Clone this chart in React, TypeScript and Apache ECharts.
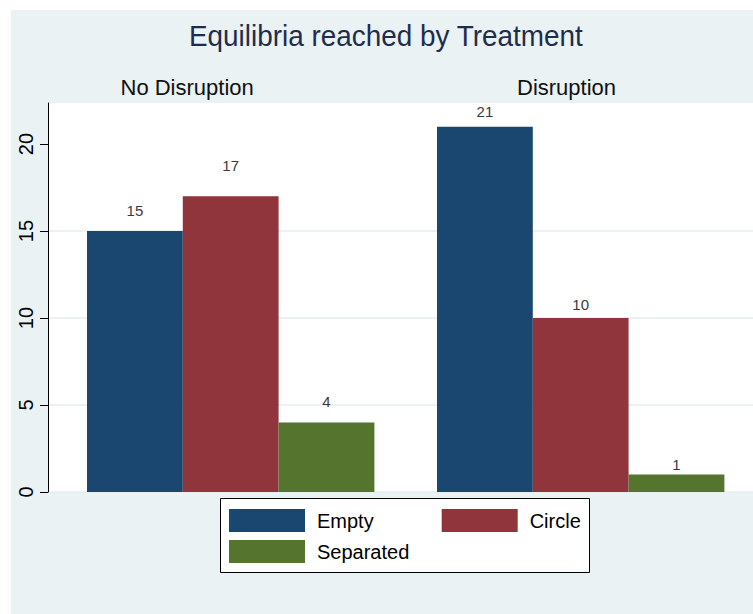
import React, { useEffect, useRef } from "react";
import * as echarts from "echarts";

const chartTitle = "Equilibria reached by Treatment";
const categories = ["No Disruption", "Disruption"];
const seriesNames = ["Empty", "Circle", "Separated"];
const emptyValues = [15, 21];
const circleValues = [17, 10];
const separatedValues = [4, 1];
const yTicks = [0, 5, 10, 15, 20];
const yMax = 22.36;

// label distances above bar tops (styling only), per series per category
const emptyLabelLift = [13, 7.2];
const circleLabelLift = [23.5, 6.2];
const separatedLabelLift = [13, 3];

const colors = ["#1a476f", "#90353b", "#55752f"];
const FONT = "'Liberation Sans', Arial, Helvetica, sans-serif";

export default function App() {
  const ref = useRef<HTMLDivElement>(null);

  useEffect(() => {
    if (!ref.current) return;
    const chart = echarts.init(ref.current, undefined, { renderer: "svg" });

    const valueSets = [emptyValues, circleValues, separatedValues];
    const lifts = [emptyLabelLift, circleLabelLift, separatedLabelLift];

    const series: any[] = [];
    categories.forEach((_, ci) => {
      seriesNames.forEach((name, si) => {
        series.push({
          type: "bar",
          name,
          xAxisIndex: ci + 1,
          yAxisIndex: ci + 1,
          barWidth: 95.8,
          barGap: "0%",
          itemStyle: { color: colors[si] },
          label: {
            show: true,
            position: "top",
            fontSize: 15,
            color: "#3a3a3a",
            fontFamily: FONT,
          },
          data: [
            {
              value: valueSets[si][ci],
              label: { distance: lifts[si][ci] },
            },
          ],
        });
      });
    });

    const legendCommon = {
      left: 229,
      itemWidth: 76,
      itemHeight: 23,
      itemGap: 68,
      icon: "rect",
      selectedMode: false,
      orient: "horizontal",
      padding: 0,
      textStyle: {
        fontSize: 20,
        color: "#000",
        fontFamily: FONT,
        padding: [0, 0, 0, 7],
      },
    };

    const option: any = {
      animation: false,
      backgroundColor: "#ffffff",
      textStyle: { fontFamily: FONT },
      grid: [
        {
          left: 48,
          right: 0,
          top: 103,
          bottom: 122,
          show: true,
          backgroundColor: "#ffffff",
          borderWidth: 0,
        },
        { left: 48, top: 103, width: 365.4, bottom: 122 },
        { left: 413.4, top: 103, width: 334.6, bottom: 122 },
      ],
      xAxis: [
        { gridIndex: 0, type: "category", data: [""], show: false },
        { gridIndex: 1, type: "category", data: [categories[0]], show: false },
        { gridIndex: 2, type: "category", data: [categories[1]], show: false },
      ],
      yAxis: [
        {
          gridIndex: 0,
          type: "value",
          min: 0,
          max: yMax,
          interval: 5,
          axisLine: { show: true, lineStyle: { color: "#000", width: 1 } },
          axisTick: {
            show: true,
            length: 8,
            lineStyle: { color: "#000", width: 1 },
            customValues: yTicks,
          },
          axisLabel: {
            rotate: 90,
            margin: 12,
            fontSize: 20,
            color: "#000",
            fontFamily: FONT,
            customValues: yTicks,
          },
          splitLine: {
            show: true,
            showMaxLine: false,
            lineStyle: { color: "#e6edef", width: 1.5 },
          },
        },
        { gridIndex: 1, type: "value", min: 0, max: yMax, show: false, splitLine: { show: false } },
        { gridIndex: 2, type: "value", min: 0, max: yMax, show: false, splitLine: { show: false } },
      ],
      legend: [
        { ...legendCommon, top: 509, data: [seriesNames[0], seriesNames[1]] },
        { ...legendCommon, top: 540, data: [seriesNames[2]] },
      ],
      graphic: [
        {
          type: "rect",
          z: -10,
          silent: true,
          shape: { x: 11, y: 10, width: 742, height: 604 },
          style: { fill: "#eaf2f3" },
        },
        {
          type: "rect",
          z: -1,
          silent: true,
          shape: { x: 220.5, y: 498.5, width: 369, height: 74 },
          style: { fill: "#ffffff", stroke: "#000000", lineWidth: 1 },
        },
        {
          type: "text",
          x: 189,
          y: 36,
          scaleX: 0.93,
          style: {
            text: chartTitle,
            fontSize: 30,
            fill: "#1f2d4d",
            fontFamily: FONT,
            verticalAlign: "middle",
          },
        },
        {
          type: "text",
          x: 120.5,
          y: 87,
          style: {
            text: categories[0],
            fontSize: 22,
            fill: "#111",
            fontFamily: FONT,
            verticalAlign: "middle",
          },
        },
        {
          type: "text",
          x: 517,
          y: 87,
          style: {
            text: categories[1],
            fontSize: 22,
            fill: "#111",
            fontFamily: FONT,
            verticalAlign: "middle",
          },
        },
      ],
      series,
    };

    chart.setOption(option);
    return () => chart.dispose();
  }, []);

  return (
    <div
      ref={ref}
      style={{ position: "fixed", left: 0, top: 0, width: 753, height: 614 }}
    />
  );
}
